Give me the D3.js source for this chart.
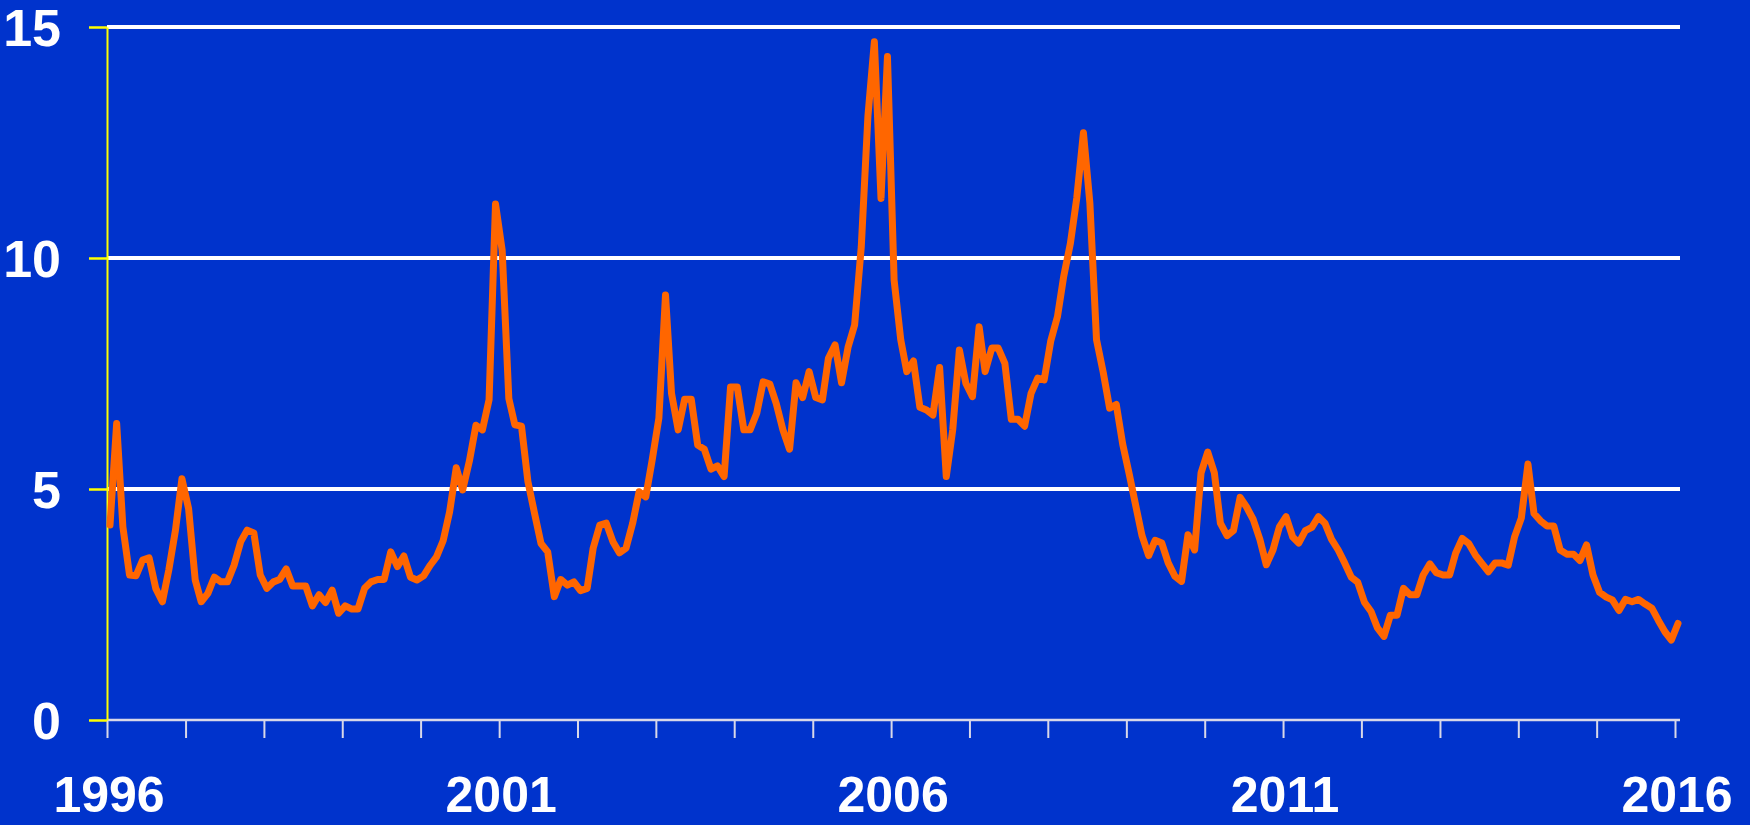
<!DOCTYPE html>
<html>
<head>
<meta charset="utf-8">
<script src="https://cdn.jsdelivr.net/npm/d3@7"></script>
<style>
  body { margin: 0; background: #0033cc; }
  svg { display: block; }
  .tickLabel { font-family: "Liberation Sans", Arial, sans-serif; font-weight: bold; font-size: 52px; fill: #ffffff; }
  .yearLabel { font-family: "Liberation Sans", Arial, sans-serif; font-weight: bold; font-size: 50px; fill: #ffffff; }
</style>
</head>
<body>
<div id="chart"></div>
<script>

// monthly values, Jan 1996 .. Jan 2016 (one row per year)
var values1996 = [4.22, 6.42, 4.18, 3.14, 3.12, 3.46, 3.51, 2.85, 2.56, 3.25, 4.11, 5.22];
var values1997 = [4.58, 3.03, 2.56, 2.74, 3.09, 2.99, 2.99, 3.35, 3.86, 4.11, 4.05, 3.14];
var values1998 = [2.85, 2.99, 3.04, 3.27, 2.90, 2.90, 2.90, 2.47, 2.71, 2.54, 2.81, 2.31];
var values1999 = [2.47, 2.40, 2.40, 2.85, 2.99, 3.04, 3.04, 3.64, 3.32, 3.55, 3.09, 3.03];
var values2000 = [3.12, 3.35, 3.53, 3.88, 4.50, 5.46, 4.98, 5.60, 6.38, 6.28, 6.93, 11.17];
var values2001 = [10.17, 6.96, 6.39, 6.36, 5.16, 4.47, 3.82, 3.64, 2.67, 3.04, 2.92, 2.99];
var values2002 = [2.80, 2.85, 3.72, 4.22, 4.26, 3.86, 3.62, 3.72, 4.26, 4.94, 4.83, 5.63];
var values2003 = [6.53, 9.20, 7.07, 6.28, 6.94, 6.94, 5.95, 5.86, 5.43, 5.50, 5.27, 7.21];
var values2004 = [7.21, 6.28, 6.28, 6.64, 7.32, 7.27, 6.85, 6.28, 5.86, 7.30, 6.98, 7.54];
var values2005 = [6.98, 6.93, 7.83, 8.12, 7.30, 8.08, 8.55, 10.24, 13.07, 14.68, 11.29, 14.36];
var values2006 = [9.52, 8.23, 7.54, 7.77, 6.77, 6.71, 6.60, 7.63, 5.27, 6.28, 8.01, 7.29];
var values2007 = [7.00, 8.51, 7.54, 8.05, 8.05, 7.72, 6.51, 6.51, 6.36, 7.07, 7.40, 7.36];
var values2008 = [8.21, 8.73, 9.60, 10.31, 11.30, 12.71, 11.19, 8.23, 7.53, 6.75, 6.83, 5.97];
var values2009 = [5.31, 4.61, 3.99, 3.56, 3.89, 3.83, 3.40, 3.11, 3.00, 4.01, 3.68, 5.35];
var values2010 = [5.80, 5.35, 4.26, 3.99, 4.10, 4.82, 4.61, 4.34, 3.91, 3.36, 3.68, 4.18];
var values2011 = [4.40, 3.96, 3.83, 4.10, 4.17, 4.40, 4.26, 3.91, 3.68, 3.40, 3.09, 2.98];
var values2012 = [2.55, 2.35, 2.00, 1.81, 2.27, 2.27, 2.85, 2.71, 2.71, 3.14, 3.38, 3.19];
var values2013 = [3.14, 3.14, 3.61, 3.93, 3.82, 3.57, 3.39, 3.21, 3.40, 3.40, 3.35, 3.97];
var values2014 = [4.37, 5.54, 4.47, 4.31, 4.20, 4.20, 3.68, 3.59, 3.59, 3.45, 3.79, 3.14];
var values2015 = [2.76, 2.66, 2.60, 2.37, 2.61, 2.56, 2.61, 2.51, 2.42, 2.16, 1.91, 1.73];
var values2016 = [2.09];

var yTicks = [0, 5, 10, 15];
var yearLabels = [1996, 2001, 2006, 2011, 2016];

// set width and height
var svgWidth = 1750;
var svgHeight = 825;

var chartMargin = {
    top: 27,
    right: 70,
    bottom: 105,
    left: 107
};

var chartWidth = svgWidth - chartMargin.left - chartMargin.right;
var chartHeight = svgHeight - chartMargin.top - chartMargin.bottom;

var allValues = [].concat(values1996, values1997, values1998, values1999, values2000,
    values2001, values2002, values2003, values2004, values2005, values2006, values2007,
    values2008, values2009, values2010, values2011, values2012, values2013, values2014,
    values2015, values2016);

// one point per month, placed mid-month
var data = allValues.map(function(v, i) {
    return { date: new Date(1996, i, 15), value: v };
});

var svg = d3.select('#chart')
    .append('svg')
    .attr('width', svgWidth)
    .attr('height', svgHeight);

svg.append('rect')
    .attr('width', svgWidth)
    .attr('height', svgHeight)
    .attr('fill', '#0033cc');

var chartGroup = svg.append('g')
    .attr('transform', `translate(${chartMargin.left}, ${chartMargin.top})`);

var xScale = d3.scaleTime()
    .domain([new Date(1996, 0, 1), new Date(2016, 0, 1)])
    .range([0, chartWidth - 5]);

var yScale = d3.scaleLinear()
    .domain([0, 15])
    .range([chartHeight, 0]);

// white gridlines
chartGroup.append('g')
    .selectAll('line')
    .data(yTicks.filter(d => d > 0))
    .enter()
    .append('line')
    .attr('x1', 0)
    .attr('x2', chartWidth)
    .attr('y1', d => yScale(d))
    .attr('y2', d => yScale(d))
    .attr('stroke', '#ffffff')
    .attr('stroke-width', 4);

// x axis: year ticks, light grey
var bottomAxis = d3.axisBottom(xScale)
    .ticks(d3.timeYear.every(1))
    .tickSize(18)
    .tickSizeOuter(0)
    .tickFormat('');

var xAxisG = chartGroup.append('g')
    .attr('transform', `translate(0, ${chartHeight})`)
    .call(bottomAxis);
xAxisG.select('.domain').remove();
xAxisG.selectAll('.tick line').attr('stroke', '#d8d8e8').attr('stroke-width', 2);
xAxisG.append('line')
    .attr('x1', 0)
    .attr('x2', chartWidth)
    .attr('stroke', '#d8d8e8')
    .attr('stroke-width', 2.5);

xAxisG.selectAll('.yearLabel')
    .data(yearLabels)
    .enter()
    .append('text')
    .classed('yearLabel', true)
    .attr('text-anchor', 'middle')
    .attr('x', d => xScale(new Date(d, 0, 1)) + 2)
    .attr('y', 92)
    .text(d => d);

// y axis: yellow
var leftAxis = d3.axisLeft(yScale)
    .tickValues(yTicks)
    .tickSize(18)
    .tickSizeOuter(0)
    .tickPadding(28);

var yAxisG = chartGroup.append('g').call(leftAxis);
yAxisG.select('.domain').attr('stroke', '#ffff00').attr('stroke-width', 2);
yAxisG.selectAll('.tick line').attr('stroke', '#ffff00').attr('stroke-width', 2.5);
yAxisG.selectAll('.tick text')
    .attr('class', 'tickLabel')
    .attr('dy', '0.365em');

// orange series line
var line = d3.line()
    .x(d => xScale(d.date))
    .y(d => yScale(d.value));

chartGroup.append('path')
    .datum(data)
    .attr('d', line)
    .attr('fill', 'none')
    .attr('stroke', '#ff6600')
    .attr('stroke-width', 7)
    .attr('stroke-linejoin', 'round')
    .attr('stroke-linecap', 'round');

</script>
</body>
</html>
